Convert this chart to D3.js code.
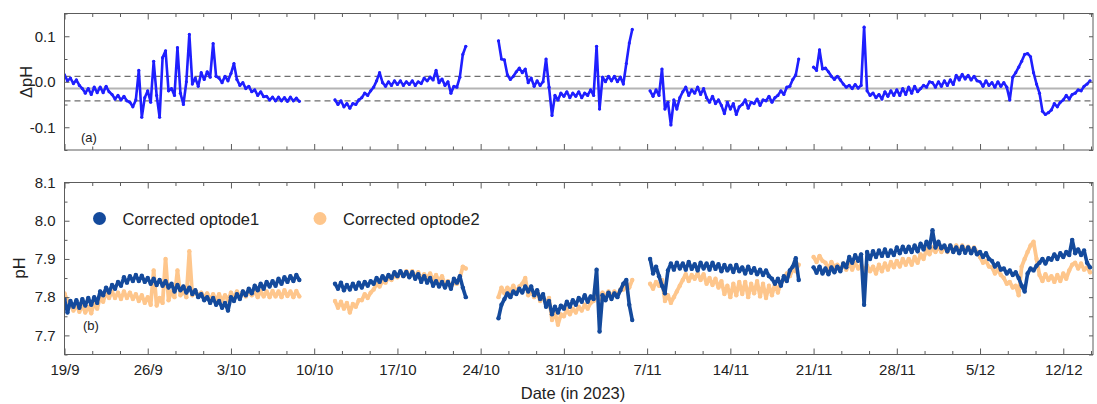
<!DOCTYPE html>
<html>
<head>
<meta charset="utf-8">
<script src="https://cdn.jsdelivr.net/npm/d3@7"></script>
<style>
  body { margin: 0; background: #fff; }
  svg text { font-family: "Liberation Sans", Arial, sans-serif; fill: #222; }
</style>
</head>
<body>
<svg id="chart" width="1097" height="404"></svg>
<script>
// ---- data: samples every 6 hours starting 19 Sep 2023 00:00 (null = no data) ----
const startDate = Date.UTC(2023, 8, 19);
const stepDays = 0.25;
const spanDays = 86.5;

const majorTickDays = [0, 7, 14, 21, 28, 35, 42, 49, 56, 63, 70, 77, 84];
const majorTickLabels = ["19/9", "26/9", "3/10", "10/10", "17/10", "24/10", "31/10",
                         "7/11", "14/11", "21/11", "28/11", "5/12", "12/12"];
const deltaTicks = [-0.1, 0.0, 0.1];
const deltaTickLabels = ["-0.1", "0.0", "0.1"];
const phTicks = [7.7, 7.8, 7.9, 8.0, 8.1];
const phTickLabels = ["7.7", "7.8", "7.9", "8.0", "8.1"];

const deltaMean = -0.015;
const deltaSD = 0.027;

// ΔpH (optode2 − optode1)
const deltaPH = [
  0.015, 0.002, 0.008, -0.004,   0.004, -0.008, -0.015, -0.025,
  -0.015, -0.028, -0.012, -0.024,   -0.012, -0.024, -0.010, -0.022,
  -0.028, -0.038, -0.030, -0.040,   -0.032, -0.042, -0.045, -0.055,
  -0.040, 0.025, -0.078, -0.035,   -0.020, -0.045, 0.045, -0.030,
  -0.078, 0.053, 0.068, -0.020,   -0.015, -0.030, 0.075, -0.025,
  -0.050, 0.000, 0.104, -0.005,   0.008, -0.010, 0.020, 0.005,
  0.022, 0.010, 0.084, 0.012,   0.008, -0.002, 0.012, 0.002,
  0.018, 0.040, 0.005, -0.008,   -0.002, -0.015, -0.010, -0.022,
  -0.018, -0.030, -0.022, -0.033,   -0.032, -0.040, -0.034, -0.042,
  -0.034, -0.042, -0.035, -0.043,   -0.034, -0.042, -0.036, -0.043,
  null, null, null, null,   null, null, null, null,
  null, null, null, -0.040,   -0.050, -0.042, -0.055, -0.048,
  -0.058, -0.048, -0.050, -0.040,   -0.035, -0.025, -0.030, -0.020,
  -0.012, 0.002, 0.020, -0.002,   -0.010, 0.000, -0.008, 0.002,
  -0.006, 0.002, -0.008, 0.000,   -0.006, 0.002, -0.008, 0.000,
  -0.004, 0.008, 0.002, 0.010,   0.004, 0.025, -0.002, 0.006,
  -0.008, 0.000, -0.025, -0.010,   -0.012, 0.010, 0.060, 0.078,
  null, null, null, null,   null, null, null, null,
  null, null, 0.090, 0.050,   0.048, 0.015, 0.005, 0.012,
  0.022, 0.030, 0.020, 0.028,   -0.002, 0.008, -0.010, 0.002,
  -0.008, 0.000, 0.050, -0.012,   -0.074, -0.030, -0.040, -0.025,
  -0.032, -0.022, -0.035, -0.025,   -0.032, -0.022, -0.035, -0.025,
  -0.030, -0.018, -0.030, 0.078,   -0.060, 0.010, 0.000, 0.012,
  0.002, 0.012, 0.000, 0.010,   -0.005, 0.040, 0.085, 0.115,
  null, null, null, null,   null, -0.020, -0.032, -0.018,
  -0.030, 0.028, -0.060, -0.045,   -0.095, -0.040, -0.060, -0.035,
  -0.022, -0.012, -0.030, -0.018,   -0.025, -0.012, -0.028, -0.015,
  -0.035, -0.045, -0.032, -0.048,   -0.040, -0.052, -0.070, -0.045,
  -0.060, -0.048, -0.072, -0.055,   -0.050, -0.040, -0.058, -0.045,
  -0.048, -0.038, -0.052, -0.040,   -0.042, -0.032, -0.045, -0.035,
  -0.030, -0.020, -0.028, -0.012,   -0.010, 0.005, 0.015, 0.050,
  null, null, null, null,   0.032, 0.025, 0.070, 0.028,
  0.030, 0.022, 0.012, 0.005,   0.012, 0.004, -0.005, -0.012,
  -0.008, -0.015, -0.006, -0.014,   -0.008, 0.120, -0.020, -0.030,
  -0.025, -0.035, -0.028, -0.038,   -0.022, -0.032, -0.020, -0.030,
  -0.018, -0.030, -0.015, -0.028,   -0.012, -0.025, -0.010, -0.022,
  -0.015, -0.008, -0.012, 0.000,   -0.002, -0.012, 0.000, -0.010,
  0.002, -0.008, 0.004, -0.006,   0.014, 0.004, 0.016, 0.006,
  0.014, 0.004, 0.012, 0.002,   0.000, -0.010, 0.002, -0.008,
  -0.002, -0.012, 0.000, -0.010,   -0.002, -0.012, -0.040, 0.010,
  0.020, 0.032, 0.045, 0.060,   0.062, 0.055, 0.020, -0.005,
  -0.025, -0.065, -0.072, -0.068,   -0.062, -0.048, -0.055, -0.045,
  -0.040, -0.030, -0.038, -0.028,   -0.025, -0.018, -0.020, -0.010,
  -0.005, 0.002
];

// Corrected optode 1 pH
const optode1 = [
  7.795, 7.760, 7.790, 7.775,   7.792, 7.772, 7.795, 7.778,
  7.798, 7.780, 7.800, 7.785,   7.815, 7.805, 7.825, 7.812,
  7.832, 7.822, 7.840, 7.830,   7.852, 7.838, 7.855, 7.842,
  7.858, 7.842, 7.856, 7.840,   7.850, 7.835, 7.848, 7.832,
  7.845, 7.830, 7.842, 7.825,   7.835, 7.815, 7.832, 7.818,
  7.828, 7.812, 7.825, 7.808,   7.818, 7.800, 7.808, 7.792,
  7.800, 7.785, 7.798, 7.780,   7.790, 7.772, 7.785, 7.765,
  7.800, 7.790, 7.808, 7.795,   7.815, 7.805, 7.822, 7.810,
  7.830, 7.818, 7.835, 7.822,   7.840, 7.828, 7.842, 7.830,
  7.848, 7.835, 7.852, 7.840,   7.855, 7.842, 7.858, 7.845,
  null, null, null, null,   null, null, null, null,
  null, null, null, 7.835,   7.822, 7.838, 7.818, 7.832,
  7.820, 7.835, 7.822, 7.838,   7.825, 7.840, 7.830, 7.842,
  7.835, 7.850, 7.840, 7.855,   7.845, 7.858, 7.850, 7.865,
  7.855, 7.868, 7.855, 7.866,   7.852, 7.865, 7.848, 7.860,
  7.840, 7.855, 7.838, 7.850,   7.830, 7.842, 7.828, 7.840,
  7.825, 7.840, 7.822, 7.848,   7.838, 7.855, 7.825, 7.800,
  null, null, null, null,   null, null, null, null,
  null, null, 7.745, 7.780,   7.795, 7.810, 7.800, 7.815,
  7.808, 7.822, 7.812, 7.828,   7.815, 7.828, 7.805, 7.818,
  7.795, 7.808, 7.775, 7.790,   7.755, 7.775, 7.760, 7.778,
  7.770, 7.788, 7.775, 7.792,   7.780, 7.798, 7.788, 7.805,
  7.788, 7.802, 7.795, 7.872,   7.710, 7.805, 7.792, 7.812,
  7.795, 7.810, 7.800, 7.818,   7.835, 7.845, 7.780, 7.740,
  null, null, null, null,   null, 7.900, 7.862, 7.880,
  7.855, 7.830, 7.810, 7.870,   7.888, 7.872, 7.890, 7.875,
  7.888, 7.872, 7.892, 7.874,   7.886, 7.870, 7.890, 7.875,
  7.888, 7.872, 7.890, 7.874,   7.886, 7.868, 7.884, 7.870,
  7.882, 7.866, 7.884, 7.868,   7.878, 7.862, 7.880, 7.864,
  7.876, 7.860, 7.872, 7.858,   7.870, 7.855, 7.848, 7.835,
  7.848, 7.830, 7.855, 7.842,   7.870, 7.880, 7.902, 7.845,
  null, null, null, null,   7.878, 7.864, 7.880, 7.862,
  7.875, 7.860, 7.878, 7.865,   7.880, 7.868, 7.888, 7.878,
  7.905, 7.890, 7.910, 7.895,   7.912, 7.780, 7.918, 7.900,
  7.920, 7.905, 7.922, 7.908,   7.925, 7.908, 7.922, 7.910,
  7.930, 7.915, 7.932, 7.918,   7.932, 7.918, 7.935, 7.920,
  7.940, 7.925, 7.945, 7.930,   7.975, 7.930, 7.945, 7.928,
  7.935, 7.920, 7.935, 7.918,   7.930, 7.915, 7.932, 7.916,
  7.930, 7.915, 7.928, 7.912,   7.918, 7.905, 7.915, 7.900,
  7.895, 7.880, 7.888, 7.872,   7.875, 7.862, 7.870, 7.858,
  7.865, 7.850, 7.830, 7.815,   7.862, 7.875, 7.870, 7.882,
  7.890, 7.900, 7.888, 7.902,   7.898, 7.912, 7.900, 7.915,
  7.905, 7.918, 7.910, 7.950,   7.915, 7.925, 7.910, 7.922,
  7.890, 7.878
];

// Corrected optode 2 pH
const optode2 = [
  7.810, 7.790, 7.782, 7.765,   7.780, 7.762, 7.778, 7.760,
  7.775, 7.758, 7.785, 7.770,   7.800, 7.788, 7.812, 7.798,
  7.815, 7.798, 7.812, 7.795,   7.815, 7.798, 7.812, 7.795,
  7.808, 7.790, 7.805, 7.785,   7.800, 7.780, 7.870, 7.778,
  7.798, 7.785, 7.900, 7.792,   7.815, 7.800, 7.870, 7.805,
  7.818, 7.800, 7.920, 7.805,   7.818, 7.802, 7.812, 7.798,
  7.810, 7.792, 7.808, 7.790,   7.808, 7.790, 7.805, 7.792,
  7.812, 7.798, 7.815, 7.800,   7.815, 7.802, 7.818, 7.805,
  7.815, 7.800, 7.816, 7.802,   7.815, 7.800, 7.816, 7.802,
  7.815, 7.800, 7.818, 7.803,   7.815, 7.800, 7.816, 7.802,
  null, null, null, null,   null, null, null, null,
  null, null, null, 7.790,   7.772, 7.788, 7.770, 7.785,
  7.760, 7.782, 7.775, 7.792,   7.792, 7.808, 7.798, 7.812,
  7.820, 7.835, 7.828, 7.842,   7.838, 7.852, 7.845, 7.858,
  7.852, 7.866, 7.855, 7.868,   7.855, 7.868, 7.852, 7.865,
  7.848, 7.860, 7.850, 7.862,   7.845, 7.858, 7.840, 7.855,
  7.832, 7.842, 7.825, 7.838,   7.835, 7.850, 7.880, 7.875,
  null, null, null, null,   null, null, null, null,
  null, null, 7.800, 7.825,   7.810, 7.825, 7.815, 7.830,
  7.812, 7.828, 7.835, 7.850,   7.805, 7.818, 7.800, 7.815,
  7.790, 7.802, 7.782, 7.798,   7.740, 7.760, 7.728, 7.755,
  7.750, 7.768, 7.755, 7.770,   7.760, 7.775, 7.765, 7.780,
  7.770, 7.785, 7.790, 7.805,   7.795, 7.812, 7.800, 7.815,
  7.800, 7.815, 7.805, 7.820,   7.820, 7.835, 7.825, 7.845,
  null, null, null, null,   null, 7.835, 7.822, 7.840,
  7.830, 7.845, 7.790, 7.805,   7.785, 7.800, 7.815, 7.830,
  7.845, 7.860, 7.842, 7.858,   7.848, 7.862, 7.845, 7.860,
  7.835, 7.850, 7.832, 7.848,   7.825, 7.842, 7.808, 7.830,
  7.800, 7.835, 7.805, 7.840,   7.808, 7.840, 7.800, 7.835,
  7.810, 7.842, 7.802, 7.835,   7.798, 7.830, 7.805, 7.835,
  7.812, 7.840, 7.845, 7.862,   7.855, 7.872, 7.868, 7.885,
  null, null, null, null,   7.905, 7.892, 7.908, 7.895,
  7.890, 7.875, 7.892, 7.878,   7.885, 7.870, 7.888, 7.872,
  7.888, 7.872, 7.890, 7.875,   7.885, 7.870, 7.882, 7.868,
  7.880, 7.862, 7.885, 7.868,   7.888, 7.872, 7.892, 7.878,
  7.895, 7.880, 7.900, 7.885,   7.900, 7.885, 7.905, 7.890,
  7.912, 7.900, 7.925, 7.912,   7.930, 7.918, 7.932, 7.918,
  7.932, 7.918, 7.935, 7.920,   7.935, 7.920, 7.935, 7.922,
  7.932, 7.920, 7.930, 7.918,   7.905, 7.890, 7.895, 7.880,
  7.878, 7.862, 7.872, 7.858,   7.850, 7.835, 7.840, 7.825,
  7.830, 7.805, 7.880, 7.900,   7.918, 7.935, 7.945, 7.900,
  7.858, 7.842, 7.860, 7.845,   7.855, 7.840, 7.858, 7.842,
  7.862, 7.848, 7.870, 7.885,   7.890, 7.875, 7.888, 7.872,
  7.878, 7.865
];

// ---- layout ----
const DAY = 86400000;
const sampleTime = i => new Date(startDate + i * stepDays * DAY);
const dayTime = d => new Date(startDate + d * DAY);

const left = 64.5, right = 1093;
const panelA = { top: 13.5, bottom: 150 };
const panelB = { top: 182.5, bottom: 354.5 };

const svg = d3.select("#chart");
const frameColor = "#5c5c5c";

const x = d3.scaleUtc().domain([dayTime(0), dayTime(spanDays)]).range([left, right]);
const yA = d3.scaleLinear().domain([-0.15, 0.15]).range([panelA.bottom, panelA.top]);
const yB = d3.scaleLinear().domain([7.65, 8.1]).range([panelB.bottom, panelB.top]);

const majorDates = majorTickDays.map(dayTime);
const minorDates = d3.range(0, Math.floor(spanDays / (7 / 3)) + 1)
  .filter(k => k % 3 !== 0)
  .map(k => dayTime(k * 7 / 3));

svg.append("defs").selectAll("clipPath")
  .data([["clipA", panelA], ["clipB", panelB]])
  .join("clipPath").attr("id", d => d[0])
  .append("rect")
  .attr("x", left).attr("y", d => d[1].top)
  .attr("width", right - left).attr("height", d => d[1].bottom - d[1].top);

function styleAxis(g) {
  g.select(".domain").remove();
  g.selectAll(".tick line").attr("stroke", frameColor).attr("stroke-width", 1);
  g.selectAll(".tick text")
    .attr("fill", "#222")
    .style("font-family", '"Liberation Sans", Arial, sans-serif')
    .style("font-size", "15px");
}

function drawFrameAndTicks(panel, y, yMajor, yMajorLabels, yMinor, showXLabels) {
  // x ticks (inward) on bottom and top
  svg.append("g").attr("transform", `translate(0,${panel.bottom})`)
    .call(d3.axisBottom(x).tickValues(minorDates).tickSize(-3.5).tickFormat(""))
    .call(styleAxis);
  svg.append("g").attr("transform", `translate(0,${panel.bottom})`)
    .call(d3.axisBottom(x).tickValues(majorDates).tickSize(-6).tickPadding(10)
      .tickFormat((d, i) => showXLabels ? majorTickLabels[i] : ""))
    .call(styleAxis);
  svg.append("g").attr("transform", `translate(0,${panel.top})`)
    .call(d3.axisTop(x).tickValues(minorDates).tickSize(-3.5).tickFormat(""))
    .call(styleAxis);
  svg.append("g").attr("transform", `translate(0,${panel.top})`)
    .call(d3.axisTop(x).tickValues(majorDates).tickSize(-6).tickFormat(""))
    .call(styleAxis);
  // y ticks (inward) on left and right
  svg.append("g").attr("transform", `translate(${left},0)`)
    .call(d3.axisLeft(y).tickValues(yMinor).tickSize(-3).tickFormat(""))
    .call(styleAxis);
  svg.append("g").attr("transform", `translate(${left},0)`)
    .call(d3.axisLeft(y).tickValues(yMajor).tickSize(-5).tickPadding(9)
      .tickFormat((d, i) => yMajorLabels[i]))
    .call(styleAxis);
  svg.append("g").attr("transform", `translate(${right},0)`)
    .call(d3.axisRight(y).tickValues(yMinor.concat(yMajor)).tickSize(-4).tickFormat(""))
    .call(styleAxis);
  svg.append("rect")
    .attr("x", left).attr("y", panel.top)
    .attr("width", right - left).attr("height", panel.bottom - panel.top)
    .attr("fill", "none").attr("stroke", frameColor).attr("stroke-width", 1);
}

function drawSeries(values, y, clip, color, lineWidth, radius) {
  const g = svg.append("g").attr("clip-path", `url(#${clip})`);
  const line = d3.line()
    .defined(d => d != null)
    .x((d, i) => x(sampleTime(i)))
    .y(d => y(d));
  g.append("path").datum(values)
    .attr("d", line)
    .attr("fill", "none").attr("stroke", color)
    .attr("stroke-width", lineWidth)
    .attr("stroke-linejoin", "round").attr("stroke-linecap", "round");
  g.selectAll("circle")
    .data(values.map((v, i) => [i, v]).filter(d => d[1] != null))
    .join("circle")
    .attr("cx", d => x(sampleTime(d[0])))
    .attr("cy", d => y(d[1]))
    .attr("r", radius)
    .attr("fill", color);
}

// ---- panel (a): ΔpH ----
const refLines = svg.append("g");
refLines.append("line")
  .attr("x1", left).attr("x2", right)
  .attr("y1", yA(deltaMean)).attr("y2", yA(deltaMean))
  .attr("stroke", "#b4b4b4").attr("stroke-width", 2);
[deltaMean + deltaSD, deltaMean - deltaSD].forEach(v => {
  refLines.append("line")
    .attr("x1", left).attr("x2", right)
    .attr("y1", yA(v)).attr("y2", yA(v))
    .attr("stroke", "#6e6e6e").attr("stroke-width", 1.2)
    .attr("stroke-dasharray", "6,4");
});

drawSeries(deltaPH, yA, "clipA", "#1f1fff", 2.6, 1.6);
drawFrameAndTicks(panelA, yA, deltaTicks, deltaTickLabels,
  [-0.15, -0.05, 0.05, 0.15], false);

svg.append("text").attr("x", 81).attr("y", 141.5)
  .style("font-size", "13px").text("(a)");
svg.append("text")
  .attr("transform", "translate(32,82) rotate(-90)")
  .attr("text-anchor", "middle")
  .style("font-size", "16.5px").text("ΔpH");

// ---- panel (b): pH ----
drawSeries(optode2, yB, "clipB", "#fec68c", 3.8, 2.2);
drawSeries(optode1, yB, "clipB", "#144a9c", 3.6, 2.2);
drawFrameAndTicks(panelB, yB, phTicks, phTickLabels,
  [7.65, 7.75, 7.85, 7.95, 8.05], true);

svg.append("text").attr("x", 83).attr("y", 330)
  .style("font-size", "13px").text("(b)");
svg.append("text")
  .attr("transform", "translate(25,268) rotate(-90)")
  .attr("text-anchor", "middle")
  .style("font-size", "16.5px").text("pH");

svg.append("text").attr("x", 573).attr("y", 399)
  .attr("text-anchor", "middle")
  .style("font-size", "16.5px").text("Date (in 2023)");

// legend
const legendItems = [
  { label: "Corrected optode1", color: "#144a9c", cx: 99.5, tx: 122.5 },
  { label: "Corrected optode2", color: "#fec68c", cx: 320, tx: 343 }
];
const legend = svg.append("g").selectAll("g").data(legendItems).join("g");
legend.append("circle")
  .attr("cx", d => d.cx).attr("cy", 218.5).attr("r", 6.5)
  .attr("fill", d => d.color);
legend.append("text")
  .attr("x", d => d.tx).attr("y", 225)
  .style("font-size", "16.5px")
  .text(d => d.label);
</script>
</body>
</html>
